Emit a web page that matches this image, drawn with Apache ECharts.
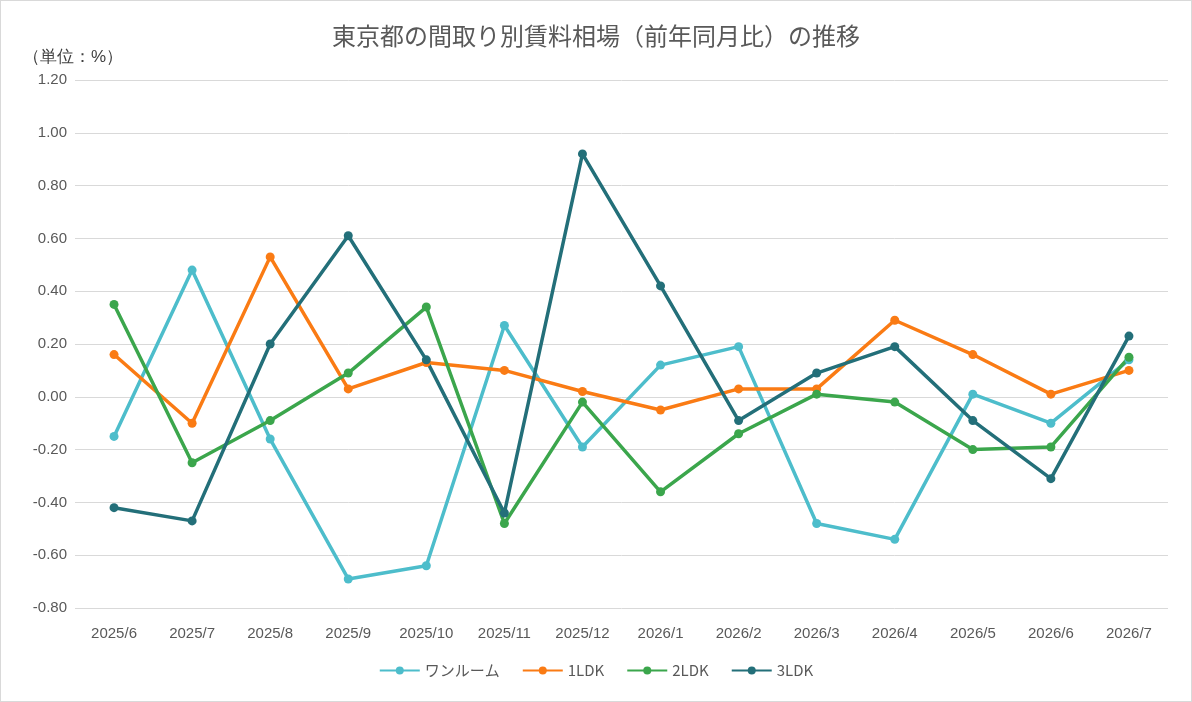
<!DOCTYPE html>
<html>
<head>
<meta charset="utf-8">
<script src="https://cdn.jsdelivr.net/npm/echarts@6/dist/echarts.min.js"></script>
<style>
html, body { margin: 0; padding: 0; background: #fff; }
#chart { width: 1190px; height: 700px; border: 1px solid #d9d9d9; }
</style>
</head>
<body>
<div id="chart"></div>
<script>
var months = ['2025/6', '2025/7', '2025/8', '2025/9', '2025/10', '2025/11', '2025/12',
    '2026/1', '2026/2', '2026/3', '2026/4', '2026/5', '2026/6', '2026/7'];
var oneRoom = [-0.15, 0.48, -0.16, -0.69, -0.64, 0.27, -0.19, 0.12, 0.19, -0.48, -0.54, 0.01, -0.10, 0.14];
var ldk1 = [0.16, -0.10, 0.53, 0.03, 0.13, 0.10, 0.02, -0.05, 0.03, 0.03, 0.29, 0.16, 0.01, 0.10];
var ldk2 = [0.35, -0.25, -0.09, 0.09, 0.34, -0.48, -0.02, -0.36, -0.14, 0.01, -0.02, -0.20, -0.19, 0.15];
var ldk3 = [-0.42, -0.47, 0.20, 0.61, 0.14, -0.44, 0.92, 0.42, -0.09, 0.09, 0.19, -0.09, -0.31, 0.23];

var names = ['ワンルーム', '1LDK', '2LDK', '3LDK'];
var colors = ['#4dbdcb', '#fa7b14', '#3ba64c', '#236f79'];
var values = [oneRoom, ldk1, ldk2, ldk3];

function buildSeries() {
    return names.map(function(n, i) {
        return {
            name: n,
            type: 'line',
            data: values[i],
            symbol: 'circle',
            symbolSize: 9,
            lineStyle: { width: 3.5, color: colors[i] },
            itemStyle: { color: colors[i] }
        };
    });
}

var chart = echarts.init(document.getElementById('chart'));
chart.setOption({
    textStyle: { fontFamily: 'Arial, "Liberation Sans", "Noto Sans CJK JP"' },
    title: {
        text: '東京都の間取り別賃料相場（前年同月比）の推移',
        left: 'center',
        top: 18,
        textStyle: { fontSize: 24, fontWeight: 'normal', color: '#595959', fontFamily: '"Noto Sans CJK JP"' }
    },
    graphic: [{
        type: 'text',
        left: 22,
        top: 48,
        style: { text: '（単位：%）', fontSize: 17, fill: '#404040', font: '17px "Noto Sans CJK JP"' }
    }],
    legend: {
        bottom: 18,
        itemWidth: 40,
        itemHeight: 10,
        itemGap: 22,
        textStyle: { fontSize: 15, color: '#595959', fontFamily: '"Noto Sans CJK JP"' },
        data: names
    },
    grid: { left: 74, right: 23, top: 79, bottom: 93 },
    xAxis: {
        type: 'category',
        data: months,
        axisLine: { show: false },
        axisTick: { show: false },
        axisLabel: { fontSize: 15, color: '#595959', margin: 18 }
    },
    yAxis: {
        type: 'value',
        min: -0.8,
        max: 1.2,
        interval: 0.2,
        axisLabel: { fontSize: 15, color: '#595959', formatter: function(v) { return v.toFixed(2); } },
        splitLine: { lineStyle: { color: '#d9d9d9' } }
    },
    series: buildSeries()
});
</script>
</body>
</html>
